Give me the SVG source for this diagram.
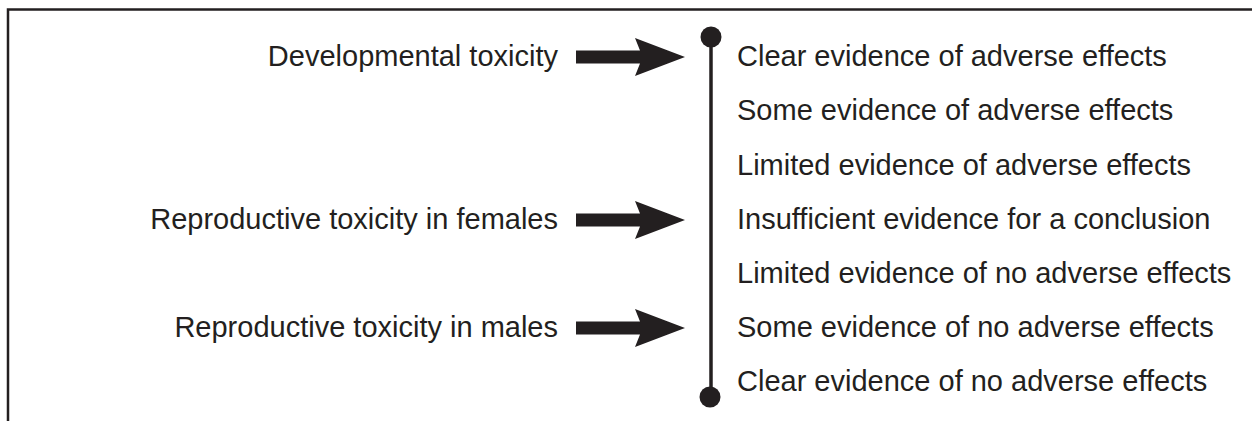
<svg xmlns="http://www.w3.org/2000/svg" width="1252" height="421" viewBox="0 0 1252 421">
<style>
text{font-family:"Liberation Sans",Arial,sans-serif;font-size:29px;fill:#231f20}
.l{text-anchor:end}
.arrow{fill:#231f20}
</style>
<defs>
<path id="arr" d="M0,-6.5 H64 L59,-19 L109,0 L59,19 L64,6.5 H0 Z"/>
</defs>
<rect width="1252" height="421" fill="#fff"/>
<path d="M8,421 V9.5 H1252" fill="none" stroke="#231f20" stroke-width="2.5"/>
<g id="scale">
<line x1="711" y1="37" x2="711" y2="397" stroke="#231f20" stroke-width="3.5"/>
<circle cx="711" cy="37" r="10.5" fill="#231f20"/>
<circle cx="710" cy="397" r="10.5" fill="#231f20"/>
</g>
<g id="node-dev"><text class="l" x="558" y="66">Developmental toxicity</text></g>
<g id="node-fem"><text class="l" x="558" y="229">Reproductive toxicity in females</text></g>
<g id="node-male"><text class="l" x="558" y="337">Reproductive toxicity in males</text></g>
<g id="connectors" class="arrow">
<use href="#arr" x="576" y="57"/>
<use href="#arr" x="576" y="220"/>
<use href="#arr" x="576" y="328"/>
</g>
<g id="levels">
<text x="737" y="66">Clear evidence of adverse effects</text>
<text x="737" y="120">Some evidence of adverse effects</text>
<text x="737" y="174.5">Limited evidence of adverse effects</text>
<text x="737" y="228.5">Insufficient evidence for a conclusion</text>
<text x="737" y="283">Limited evidence of no adverse effects</text>
<text x="737" y="337">Some evidence of no adverse effects</text>
<text x="737" y="391">Clear evidence of no adverse effects</text>
</g>
</svg>
